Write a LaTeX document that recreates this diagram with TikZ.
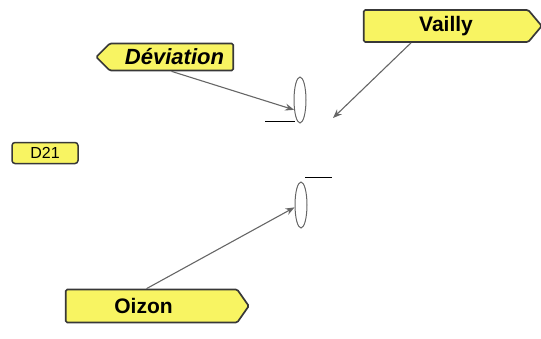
\documentclass[tikz,border=0pt]{standalone}
\usepackage{fontspec}
\setmainfont{Liberation Sans}
\usetikzlibrary{arrows.meta,shapes,positioning}

\definecolor{signyellow}{HTML}{F8F462}
\definecolor{signedge}{HTML}{383838}
\definecolor{leadgray}{HTML}{666666}

\tikzset{
  sign/.style={shape=signal,draw=signedge,fill=signyellow,line width=1.7pt,
    rounded corners=1.5pt,inner sep=0pt,font=\fontsize{21}{21}\selectfont\bfseries},
  roadno/.style={draw=signedge,fill=signyellow,line width=1.5pt,rounded corners=3pt,
    inner sep=0pt,minimum width=66,minimum height=21,font=\fontsize{16}{16}\selectfont},
  ring/.style={draw=leadgray,ellipse,line width=1pt,inner sep=0pt,minimum width=12,minimum height=46},
  lead/.style={draw=leadgray,line width=1.1pt,-{Stealth[length=9pt,width=7pt]}}
}

\begin{document}
\begin{tikzpicture}[x=1pt,y=-1pt]
  \useasboundingbox (0,0) rectangle (541,338);
	\node[sign,signal to=west,signal pointer angle=90,minimum width=137,minimum height=27,
		font=\fontsize{22}{22}\selectfont\bfseries\itshape]
		(deviation) at (171.5,57) {\kern6pt D\'eviation};
	\node[sign,signal to=east,signal pointer angle=100,minimum width=178,minimum height=32]
		(vailly) at (446,26) {Vailly};
	\node[sign,signal to=east,signal pointer angle=110,minimum width=183,minimum height=33]
		(oizon) at (151.5,306) {Oizon\kern16pt};
	\node[roadno] (d21) at (45,153) {D21};
	\node[ring] (up) at (300,100) {};
	\node[ring] (low) at (301,205) {};
	\coordinate (vtip) at (333,118);
	% marks
	\draw[line width=0.9pt] (265,121) -- (295,121);
	\draw[line width=0.9pt] (305,177) -- (332,177);
	\path
	(deviation.south) edge[lead] (up.239)
	([xshift=-35]vailly.south) edge[lead] (vtip)
	([xshift=-5]oizon.north) edge[lead] (low.200);
\end{tikzpicture}
\end{document}
